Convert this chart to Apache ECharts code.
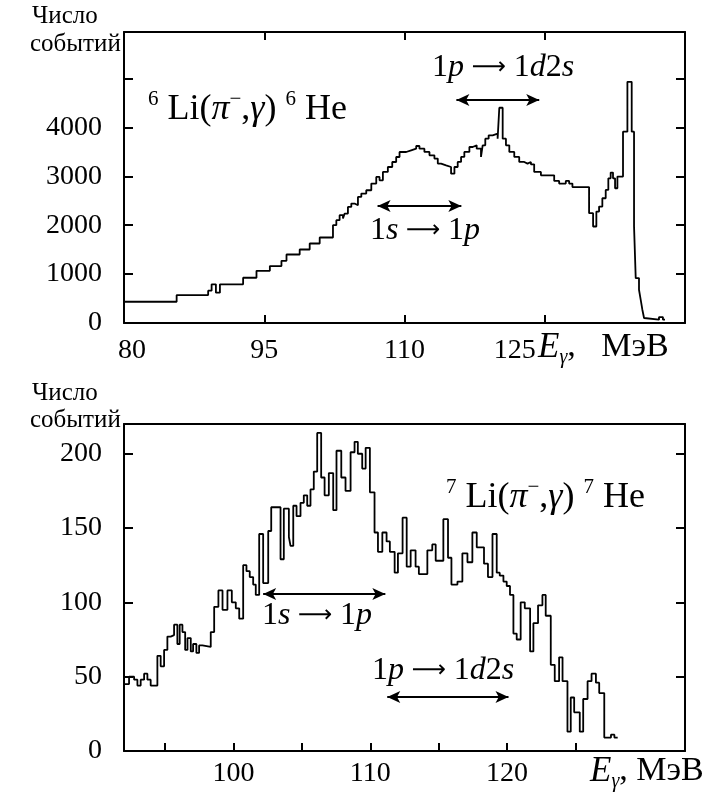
<!DOCTYPE html>
<html>
<head>
<meta charset="utf-8">
<script src="https://cdn.jsdelivr.net/npm/echarts@6/dist/echarts.min.js"></script>
<style>
  html, body { margin: 0; padding: 0; background: #fff; }
  #chart { width: 707px; height: 799px; }
</style>
</head>
<body>
<div id="chart"></div>
<script>
// 6Li(pi-,gamma) spectrum: left bin edges (MeV) and counts, last entry closes the final bin
const topEdges = [80, 85.63, 89.0, 89.37, 89.83, 90.26, 92.74, 94.17, 95.6, 96.84, 97.38, 98.79, 99.86, 100.93,
  102.35, 102.71, 103.06, 103.42, 103.6, 103.95, 104.31, 104.66, 105.02, 105.38, 105.91, 106.45, 106.98, 107.33,
  107.69, 108.22, 108.69, 109.11, 109.47, 110.18, 110.71, 111.25, 111.6, 112.13, 112.67, 113.2, 113.56, 113.91,
  114.45, 114.98, 115.34, 115.69, 116.05, 116.4, 116.94, 117.29, 117.72, 118.18, 118.36, 118.64, 119.0, 119.43,
  119.96, 120.14, 120.5, 120.85, 121.21, 121.74, 122.27, 122.81, 123.16, 123.52, 123.87, 124.59, 126.01, 126.54,
  127.25, 127.61, 127.96, 129.74, 130.17, 130.52, 130.81, 131.16, 131.52, 131.8, 132.05, 132.3, 132.52, 132.77,
  133.37, 133.84, 134.3, 134.55, 134.73, 135.08, 135.26, 135.44, 135.62, 135.8, 137.22, 137.64, 137.86]
const topCounts = [435, 571, 660, 790, 620, 790, 925, 1067, 1163, 1272, 1401, 1503, 1626, 1748,
  2000, 2102, 2204, 2136, 2238, 2374, 2442, 2408, 2578, 2646, 2714, 2850, 2986, 2918,
  3088, 3190, 3292, 3394, 3496, 3531, 3565, 3619, 3565, 3497, 3429, 3361, 3259, 3224,
  3190, 3054, 3190, 3293, 3395, 3497, 3599, 3633, 3565, 3395, 3633, 3769, 3837, 3871,
  3769, 4401, 3769, 3633, 3497, 3395, 3293, 3259, 3293, 3245, 3088, 3020, 2905, 2850,
  2905, 2850, 2780, 2245, 1973, 2279, 2381, 2551, 2721, 2959, 3075, 2959, 2755, 2993,
  3912, 4932, 3912, 1973, 918, 680, 476, 272, 102, 68, 122, 68, 68]

// 7Li(pi-,gamma) spectrum
const botEdges = [92.0, 92.37, 92.74, 92.98, 93.22, 93.47, 93.71, 93.95, 94.44, 94.68, 94.93, 95.17, 95.41, 95.66,
  95.9, 96.07, 96.27, 96.47, 96.64, 96.88, 97.05, 97.29, 97.49, 97.73, 98.34, 98.59, 98.9, 99.2, 99.56, 99.88,
  100.17, 100.42, 100.71, 100.95, 101.19, 101.44, 101.63, 101.88, 102.17, 102.54, 102.76, 103.44, 103.68, 104.05,
  104.17, 104.37, 104.61, 104.9, 105.14, 105.39, 105.63, 105.87, 106.12, 106.41, 106.66, 106.97, 107.29, 107.53,
  107.88, 108.19, 108.56, 108.85, 109.09, 109.41, 109.66, 109.97, 110.31, 110.56, 110.88, 111.19, 111.43, 111.78,
  112.02, 112.36, 112.66, 112.95, 113.31, 113.55, 114.17, 114.53, 114.78, 115.34, 115.68, 115.93, 116.37, 116.73,
  117.1, 117.46, 117.78, 118.31, 118.6, 118.93, 119.24, 119.46, 119.73, 119.97, 120.21, 120.46, 120.7, 120.99,
  121.29, 121.68, 121.92, 122.26, 122.58, 122.82, 123.19, 123.48, 123.8, 124.05, 124.41, 124.65, 124.9, 125.31,
  125.56, 125.88, 126.17, 126.49, 126.73, 127.1, 127.59, 127.84, 128.08]
const botCounts = [45, 50, 48, 44, 48, 52, 48, 44, 64, 57, 68, 77, 78, 85,
  72, 85, 80, 68, 76, 67, 72, 66, 71, 70, 80, 97, 108, 95, 108, 100,
  96, 89, 125, 121, 117, 112, 105, 146, 113, 148, 164, 129, 163, 144,
  138, 165, 158, 167, 172, 165, 176, 188, 214, 184, 172, 187, 162, 202,
  184, 175, 201, 208, 200, 190, 204, 174, 147, 134, 147, 141, 134, 120,
  133, 157, 124, 135, 124, 119, 135, 139, 128, 156, 130, 112, 114, 133,
  127, 147, 137, 126, 117, 146, 120, 118, 114, 111, 105, 79, 75, 100,
  96, 67, 86, 98, 105, 91, 58, 47, 63, 47, 13, 36, 26, 13,
  35, 47, 52, 46, 39, 9, 11, 9, 9]

// axis ticks / labels
const topXTicks = [95, 110, 125]
const topXLabels = [80, 95, 110, 125]
const topYTicks = [1000, 2000, 3000, 4000, 5000]
const topYLabels = [0, 1000, 2000, 3000, 4000]
const botXTicks = [95, 100, 105, 110, 115, 120, 125]
const botXLabels = [100, 110, 120]
const botYTicks = [50, 100, 150, 200]
const botYLabels = [0, 50, 100, 150, 200]

// transition arrows: [from E, to E, counts level]
const topArrows = [[115.55, 124.41, 4560], [107.12, 116.08, 2393]]
const botArrows = [[102.17, 111.1, 105.6], [111.24, 120.1, 36.3]]

const serif = '"Liberation Serif", "Times New Roman", serif'
const black = '#000'

function pairs(edges, counts) {
  return edges.map((e, i) => [e, counts[i]])
}

function arrowLines(list) {
  return list.map(a => [{ coord: [a[0], a[2]] }, { coord: [a[1], a[2]] }])
}

// first and last top labels sit off-centre in the original
function topXFormat(v) {
  if (v === 80) return '{l|80}'
  if (v === 125) return '{r|125}'
  return String(v)
}

function xAxis(grid, min, max, pos, ticks, labels) {
  return {
    type: 'value', gridIndex: grid, min: min, max: max, position: pos,
    axisLine: { show: true, onZero: false, lineStyle: { color: black, width: 2 } },
    axisTick: { show: ticks.length > 0, inside: true, length: 8, customValues: ticks, lineStyle: { color: black, width: 2 } },
    axisLabel: {
      show: labels.length > 0, customValues: labels, color: black,
      fontFamily: serif, fontSize: 28, margin: grid === 0 ? 14 : 9,
      formatter: grid === 0 ? topXFormat : v => String(v),
      rich: {
        l: { fontFamily: serif, fontSize: 28, padding: [0, 0, 0, 16] },
        r: { fontFamily: serif, fontSize: 28, padding: [0, 60, 0, 0] }
      }
    },
    splitLine: { show: false }
  }
}

function yAxis(grid, max, pos, ticks, labels) {
  return {
    type: 'value', gridIndex: grid, min: 0, max: max, position: pos,
    axisLine: { show: true, onZero: false, lineStyle: { color: black, width: 2 } },
    axisTick: { show: true, inside: true, length: 9, customValues: ticks, lineStyle: { color: black, width: 2 } },
    axisLabel: {
      show: labels.length > 0, customValues: labels, color: black,
      fontFamily: serif, fontSize: 28, margin: 22, formatter: v => String(v)
    },
    splitLine: { show: false }
  }
}

function histSeries(xi, yi, data, arrows) {
  return {
    type: 'line', xAxisIndex: xi, yAxisIndex: yi, step: 'end', data: data,
    showSymbol: false, symbol: 'none', silent: true,
    lineStyle: { color: black, width: 1.8 },
    markLine: {
      silent: true, symbol: ['arrow', 'arrow'], symbolSize: [9, 13],
      label: { show: false },
      lineStyle: { color: black, width: 1.8, type: 'solid' },
      data: arrowLines(arrows)
    }
  }
}

const rich = {
  n: { fontFamily: serif, fontSize: 36, lineHeight: 42, color: black },
  i: { fontFamily: serif, fontSize: 36, fontStyle: 'italic', lineHeight: 42, color: black },
  sup: { fontFamily: serif, fontSize: 21, lineHeight: 24, verticalAlign: 'top', color: black },
  t: { fontFamily: serif, fontSize: 32, lineHeight: 38, color: black },
  ti: { fontFamily: serif, fontSize: 32, fontStyle: 'italic', lineHeight: 38, color: black },
  ar: { fontFamily: '"DejaVu Sans", sans-serif', fontSize: 24, lineHeight: 38, color: black },
  sub: { fontFamily: serif, fontSize: 20, fontStyle: 'italic', lineHeight: 18, verticalAlign: 'bottom', color: black },
  u: { fontFamily: serif, fontSize: 34, lineHeight: 40, color: black },
  ui: { fontFamily: serif, fontSize: 35, fontStyle: 'italic', lineHeight: 40, color: black }
}

function label(left, top, text) {
  return { type: 'text', left: left, top: top, silent: true, style: { text: text, rich: rich, fill: black } }
}

function plain(left, top, text, size) {
  return { type: 'text', left: left, top: top, silent: true,
    style: { text: text, fill: black, font: size + 'px ' + serif } }
}

const reaction = n => '{sup|' + n + '}{n| Li(}{i|\u03c0}{sup|\u2212}{n|,}{i|\u03b3}{n|) }{sup|' + n + '}{n| He}'
const tr1 = '{t|1}{ti|s}{ar| \u27f6 }{t|1}{ti|p}'
const tr2 = '{t|1}{ti|p}{ar| \u27f6 }{t|1}{ti|d}{t|2}{ti|s}'
const eTop = '{ui|E}{sub|\u03b3}{u|,   МэВ}'
const eBot = '{ui|E}{sub|\u03b3}{u|, МэВ}'

const chart = echarts.init(document.getElementById('chart'), null, { renderer: 'canvas' })
chart.setOption({
  animation: false,
  backgroundColor: '#fff',
  grid: [
    { left: 124, right: 22, top: 32, height: 291 },
    { left: 124, right: 22, top: 424, height: 327 }
  ],
  xAxis: [
    xAxis(0, 80, 140, 'bottom', topXTicks, topXLabels),
    xAxis(0, 80, 140, 'top', topXTicks, []),
    xAxis(1, 92, 133, 'bottom', botXTicks, botXLabels),
    xAxis(1, 92, 133, 'top', [], [])
  ],
  yAxis: [
    yAxis(0, 5950, 'left', topYTicks, topYLabels),
    yAxis(0, 5950, 'right', topYTicks, []),
    yAxis(1, 220, 'left', botYTicks, botYLabels),
    yAxis(1, 220, 'right', botYTicks, [])
  ],
  series: [
    histSeries(0, 0, pairs(topEdges, topCounts), topArrows),
    histSeries(2, 2, pairs(botEdges, botCounts), botArrows)
  ],
  graphic: [
    plain(32, 4, 'Число', 25),
    plain(30, 32, 'событий', 25),
    plain(32, 381, 'Число', 25),
    plain(30, 408, 'событий', 25),
    label(148, 89, reaction(6)),
    label(432, 52, tr2),
    label(370, 215, tr1),
    label(538, 330, eTop),
    label(446, 477, reaction(7)),
    label(262, 600, tr1),
    label(372, 655, tr2),
    label(590, 754, eBot)
  ]
})
</script>
</body>
</html>
